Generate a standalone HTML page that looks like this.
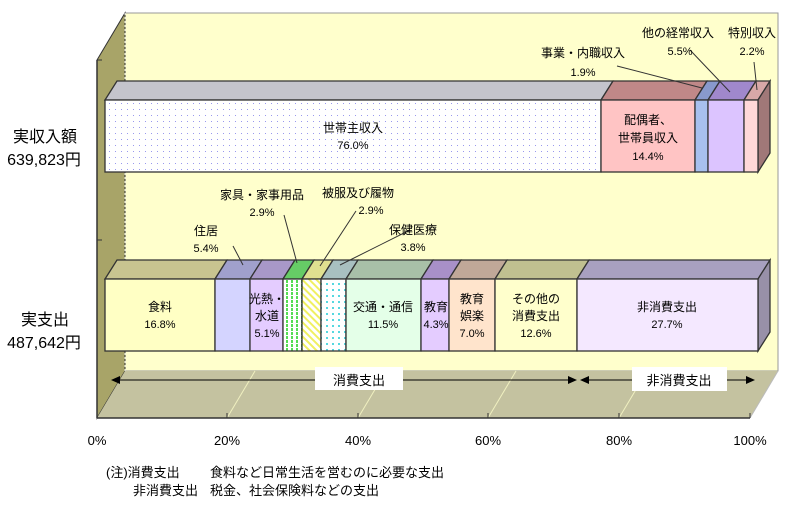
<!DOCTYPE html>
<html><head><meta charset="utf-8"><style>
body{margin:0;background:#fff;width:799px;height:505px;overflow:hidden}
text{font-family:"Liberation Sans","Noto Sans CJK JP",sans-serif;fill:#000}
</style></head><body>
<svg width="799" height="505" viewBox="0 0 799 505" xmlns="http://www.w3.org/2000/svg">
<defs>
<pattern id="dots" width="6" height="6" patternUnits="userSpaceOnUse"><rect width="6" height="6" fill="#fff"/><rect x="1" y="1" width="1" height="1" fill="#9999ee"/></pattern>
<pattern id="grn" width="5" height="4" patternUnits="userSpaceOnUse"><rect width="5" height="4" fill="#fff"/><rect x="1" width="2" height="3" fill="#55dd55"/></pattern>
<pattern id="yel" width="5" height="5" patternUnits="userSpaceOnUse" patternTransform="rotate(-45)"><rect width="5" height="5" fill="#fff"/><rect width="2" height="5" fill="#f0f060"/></pattern>
<pattern id="cy" width="6" height="6" patternUnits="userSpaceOnUse"><rect width="6" height="6" fill="#fff"/><rect x="2" y="1" width="2" height="2" fill="#55d8e0"/></pattern>
</defs>
<rect x="125" y="13" width="653" height="358" fill="#ffffcc" stroke="#999" stroke-width="1"/>
<polygon points="97,60 125,13 125,371 97,418" fill="#a8a468" stroke="#333" stroke-width="1"/>
<line x1="125" y1="13" x2="125" y2="371" stroke="#ddd" stroke-dasharray="2,2"/>
<polygon points="97,418 125,371 778,371 750,418" fill="#c4c2a0"/>
<g stroke="#f0f0c0" stroke-width="1">
<line x1="227" y1="418" x2="255" y2="371"/><line x1="358" y1="418" x2="386" y2="371"/>
<line x1="488" y1="418" x2="516" y2="371"/><line x1="619" y1="418" x2="647" y2="371"/>
</g>
<line x1="97" y1="60" x2="97" y2="418" stroke="#333" stroke-width="1.5"/>
<line x1="97" y1="418" x2="750" y2="418" stroke="#333" stroke-width="1.5"/>
<line x1="750" y1="418" x2="778" y2="371" stroke="#bbb"/>
<g stroke="#333"><line x1="97" y1="60" x2="102" y2="60"/><line x1="97" y1="240" x2="102" y2="240"/>
<line x1="227" y1="413" x2="227" y2="418"/><line x1="358" y1="413" x2="358" y2="418"/><line x1="488" y1="413" x2="488" y2="418"/><line x1="619" y1="413" x2="619" y2="418"/><line x1="750" y1="413" x2="750" y2="418"/></g>

<g stroke="#333" stroke-width="1.3">
<polygon points="105,100 117,81 613,81 601,100" fill="#c4c4cc"/>
<polygon points="601,100 613,81 707,81 695,100" fill="#c08888"/>
<polygon points="695,100 707,81 720,81 708,100" fill="#8899cc"/>
<polygon points="708,100 720,81 756,81 744,100" fill="#a088cc"/>
<polygon points="744,100 756,81 770,81 758,100" fill="#d8a8a8"/>
<polygon points="758,100 770,81 770,153 758,172" fill="#a07878"/>
<rect x="105" y="100" width="496" height="72" fill="url(#dots)"/>
<rect x="601" y="100" width="94" height="72" fill="#ffc4c4"/>
<rect x="695" y="100" width="13" height="72" fill="#a8c0ee"/>
<rect x="708" y="100" width="36" height="72" fill="#dcc4ff"/>
<rect x="744" y="100" width="14" height="72" fill="#ffd8d8"/>
</g>
<g stroke="#333" stroke-width="1.3">
<polygon points="105,279 117,260 227,260 215,279" fill="#c8c490"/>
<polygon points="215,279 227,260 262,260 250,279" fill="#a0a0cc"/>
<polygon points="250,279 262,260 295,260 283,279" fill="#a898c8"/>
<polygon points="283,279 295,260 314,260 302,279" fill="#66cc66"/>
<polygon points="302,279 314,260 333,260 321,279" fill="#e0e090"/>
<polygon points="321,279 333,260 358,260 346,279" fill="#a8c0c0"/>
<polygon points="346,279 358,260 433,260 421,279" fill="#a8c0a8"/>
<polygon points="421,279 433,260 461,260 449,279" fill="#a890c8"/>
<polygon points="449,279 461,260 507,260 495,279" fill="#c0a898"/>
<polygon points="495,279 507,260 589,260 577,279" fill="#c0c090"/>
<polygon points="577,279 589,260 770,260 758,279" fill="#a8a0c0"/>
<polygon points="758,279 770,260 770,332 758,351" fill="#9890a8"/>
<rect x="105" y="279" width="110" height="72" fill="#ffffc4"/>
<rect x="215" y="279" width="35" height="72" fill="#d4d4ff"/>
<rect x="250" y="279" width="33" height="72" fill="#e4ccff"/>
<rect x="283" y="279" width="19" height="72" fill="url(#grn)"/>
<rect x="302" y="279" width="19" height="72" fill="url(#yel)"/>
<rect x="321" y="279" width="25" height="72" fill="url(#cy)"/>
<rect x="346" y="279" width="75" height="72" fill="#e4ffe8"/>
<rect x="421" y="279" width="28" height="72" fill="#e4ccff"/>
<rect x="449" y="279" width="46" height="72" fill="#ffe4cc"/>
<rect x="495" y="279" width="82" height="72" fill="#ffffcc"/>
<rect x="577" y="279" width="181" height="72" fill="#f4e8ff"/>
</g>

<g stroke="#333" stroke-width="1">
<line x1="617" y1="66" x2="702" y2="88"/><line x1="690" y1="50" x2="730" y2="92"/><line x1="754" y1="62" x2="757" y2="90"/>
<line x1="233" y1="246" x2="243" y2="265"/><line x1="284" y1="215" x2="297" y2="263"/>
<line x1="356" y1="211" x2="320" y2="266"/><line x1="410" y1="230" x2="340" y2="265"/>
</g>

<g font-size="12" text-anchor="middle">
<text x="353" y="132">世帯主収入</text><text x="353" y="149" font-size="11">76.0%</text>
<text x="648" y="124">配偶者、</text><text x="648" y="142">世帯員収入</text><text x="648" y="160" font-size="11">14.4%</text>
<text x="583" y="57">事業・内職収入</text><text x="583" y="76" font-size="11">1.9%</text>
<text x="678" y="37">他の経常収入</text><text x="680" y="55" font-size="11">5.5%</text>
<text x="752" y="37">特別収入</text><text x="752" y="55" font-size="11">2.2%</text>
<text x="160" y="311">食料</text><text x="160" y="328" font-size="11">16.8%</text>
<text x="267" y="303">光熱・</text><text x="267" y="320">水道</text><text x="267" y="337" font-size="11">5.1%</text>
<text x="383" y="311">交通・通信</text><text x="383" y="328" font-size="11">11.5%</text>
<text x="436" y="311">教育</text><text x="436" y="328" font-size="11">4.3%</text>
<text x="472" y="303">教育</text><text x="472" y="320">娯楽</text><text x="472" y="337" font-size="11">7.0%</text>
<text x="536" y="303">その他の</text><text x="536" y="320">消費支出</text><text x="536" y="337" font-size="11">12.6%</text>
<text x="667" y="311">非消費支出</text><text x="667" y="328" font-size="11">27.7%</text>
<text x="206" y="235">住居</text><text x="206" y="252" font-size="11">5.4%</text>
<text x="262" y="199">家具・家事用品</text><text x="262" y="216" font-size="11">2.9%</text>
<text x="358" y="197">被服及び履物</text><text x="371" y="214" font-size="11">2.9%</text>
<text x="413" y="234">保健医療</text><text x="413" y="251" font-size="11">3.8%</text>
</g>

<g stroke="#000" stroke-width="1">
<line x1="118" y1="380" x2="572" y2="380"/><line x1="584" y1="380" x2="748" y2="380"/>
</g>
<polygon points="111,380 120,376 120,384" fill="#000"/>
<polygon points="577,380 568,376 568,384" fill="#000"/>
<polygon points="580,380 589,376 589,384" fill="#000"/>
<polygon points="755,380 746,376 746,384" fill="#000"/>
<rect x="315" y="367" width="88" height="23" fill="#fff"/>
<rect x="632" y="367" width="95" height="24" fill="#fff"/>
<text x="359" y="385" font-size="13" text-anchor="middle">消費支出</text>
<text x="679" y="385" font-size="13" text-anchor="middle">非消費支出</text>

<g font-size="13" text-anchor="middle">
<text x="97" y="445">0%</text><text x="227" y="445">20%</text><text x="358" y="445">40%</text>
<text x="488" y="445">60%</text><text x="619" y="445">80%</text><text x="750" y="445">100%</text>
</g>
<g font-size="16" text-anchor="middle">
<text x="45" y="142">実収入額</text><text x="44" y="165">639,823円</text>
<text x="45" y="325">実支出</text><text x="44" y="348">487,642円</text>
</g>
<g font-size="13">
<text x="106" y="477">(注)消費支出</text><text x="210" y="477">食料など日常生活を営むのに必要な支出</text>
<text x="133" y="495">非消費支出</text><text x="210" y="495">税金、社会保険料などの支出</text>
</g>
</svg>
</body></html>
